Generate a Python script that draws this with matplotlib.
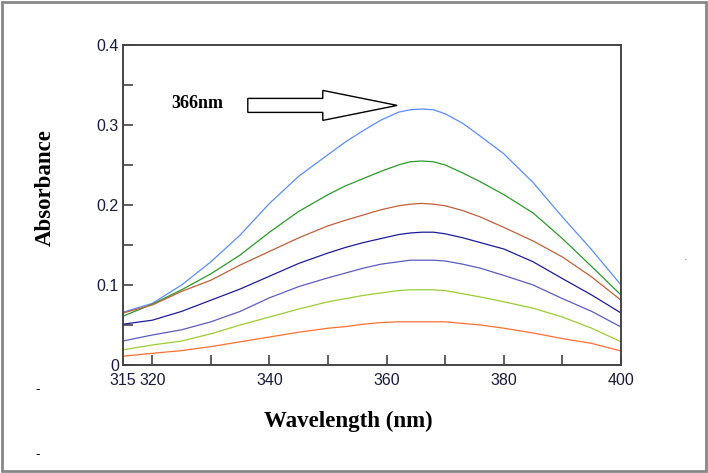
import numpy as np
import matplotlib.pyplot as plt
from matplotlib.patches import Rectangle, FancyArrow

# wavelength (nm) and absorbance of the seven spectra
wavelength = [315, 320, 325, 330, 335, 340, 345, 350, 353, 356, 359, 362, 364,
              366, 368, 370, 373, 376, 380, 385, 390, 395, 400]
abs_1 = [0.066, 0.077, 0.100, 0.129, 0.1625, 0.202, 0.236, 0.263, 0.279, 0.293,
         0.306, 0.316, 0.319, 0.320, 0.319, 0.314, 0.302, 0.286, 0.264, 0.228,
         0.185, 0.144, 0.100]
abs_2 = [0.061, 0.076, 0.094, 0.114, 0.1375, 0.166, 0.192, 0.213, 0.224, 0.233,
         0.242, 0.250, 0.254, 0.255, 0.254, 0.250, 0.240, 0.229, 0.213, 0.190,
         0.158, 0.123, 0.0875]
abs_3 = [0.065, 0.075, 0.092, 0.106, 0.125, 0.142, 0.159, 0.174, 0.181, 0.1875,
         0.194, 0.199, 0.201, 0.202, 0.201, 0.199, 0.193, 0.185, 0.172, 0.155,
         0.135, 0.110, 0.081]
abs_4 = [0.051, 0.056, 0.067, 0.081, 0.095, 0.111, 0.127, 0.140, 0.147, 0.153,
         0.158, 0.163, 0.165, 0.166, 0.166, 0.164, 0.159, 0.153, 0.145, 0.129,
         0.108, 0.0875, 0.065]
abs_5 = [0.030, 0.0375, 0.044, 0.054, 0.067, 0.084, 0.098, 0.109, 0.115, 0.121,
         0.126, 0.129, 0.131, 0.131, 0.131, 0.130, 0.126, 0.121, 0.112, 0.100,
         0.083, 0.067, 0.0475]
abs_6 = [0.019, 0.025, 0.030, 0.039, 0.050, 0.060, 0.070, 0.079, 0.083, 0.087,
         0.090, 0.093, 0.094, 0.094, 0.094, 0.093, 0.089, 0.085, 0.079, 0.071,
         0.060, 0.046, 0.029]
abs_7 = [0.011, 0.0146, 0.018, 0.023, 0.029, 0.035, 0.041, 0.046, 0.048, 0.051,
         0.053, 0.054, 0.054, 0.054, 0.054, 0.054, 0.052, 0.050, 0.046, 0.040,
         0.033, 0.027, 0.0175]

series = [abs_1, abs_2, abs_3, abs_4, abs_5, abs_6, abs_7]
colors = ["#5a8cff", "#2a9a2a", "#c0603a", "#1c1c9a", "#5c5cc0", "#9acd32", "#ff7030"]

xticks = [315, 320, 340, 360, 380, 400]
xminor = [330, 350, 370, 390]
yticks = [0, 0.1, 0.2, 0.3, 0.4]
yminor = [0.05, 0.15, 0.25, 0.35]
peak_label = "366nm"

fig = plt.figure(figsize=(7.08, 4.73), dpi=100)
ax = fig.add_axes([123 / 708, 1 - 365 / 473, 498 / 708, 320 / 473])

for y, c in zip(series, colors):
    ax.plot(wavelength, y, color=c, linewidth=0.9)

ax.set_xlim(315, 400)
ax.set_ylim(0, 0.4)
ax.set_xticks(xticks)
ax.set_xticklabels([str(t) for t in xticks])
ax.set_xticks(xminor, minor=True)
ax.set_yticks(yticks)
ax.set_yticklabels(["0", "0.1", "0.2", "0.3", "0.4"])
ax.set_yticks(yminor, minor=True)

for lab in ax.get_xticklabels() + ax.get_yticklabels():
    lab.set_family("Liberation Sans")
    lab.set_fontsize(11.5)
    lab.set_color("#1a1a40")
ax.tick_params(which="both", direction="in", length=7, width=1.2, color="#444")
ax.tick_params(axis="x", which="major", pad=6)
ax.tick_params(axis="y", which="major", pad=3)
ax.xaxis.get_major_ticks()[0].tick1line.set_visible(False)
for s in ax.spines.values():
    s.set_color("#444")
    s.set_linewidth(1.4)

serif = "Liberation Serif"
ax.set_xlabel("Wavelength (nm)", family=serif, fontweight="bold", fontsize=16.5)
ax.xaxis.set_label_coords(0.452, -0.175)
ax.xaxis.label.set_va("center")
ax.set_ylabel("Absorbance", family=serif, fontweight="bold", fontsize=16.5)
ax.yaxis.set_label_coords(-0.157, 0.555)
ax.yaxis.label.set_va("center")

# arrow pointing to the peak
ax.add_patch(FancyArrow(336.3, 0.3245, 25.5, 0, width=0.0175, head_width=0.0375,
                        head_length=12.7, length_includes_head=True,
                        fc="white", ec="black", lw=1.0))
ax.text(327.6, 0.3275, peak_label, family=serif, fontweight="bold",
        fontsize=13, ha="center", va="center")

# outer frame and stray marks
fig.patches.append(Rectangle((0.003, 0.004), 0.994, 0.992, transform=fig.transFigure,
                             fill=False, ec="#888", lw=2))
fig.text(38 / 708, 1 - 390 / 473, "-", fontsize=9, ha="center", va="center")
fig.text(38 / 708, 1 - 455 / 473, "-", fontsize=9, ha="center", va="center")
fig.text(686 / 708, 1 - 257 / 473, ".", fontsize=8, color="#c0603a", ha="center", va="center")

fig.savefig("out.png", dpi=100)
